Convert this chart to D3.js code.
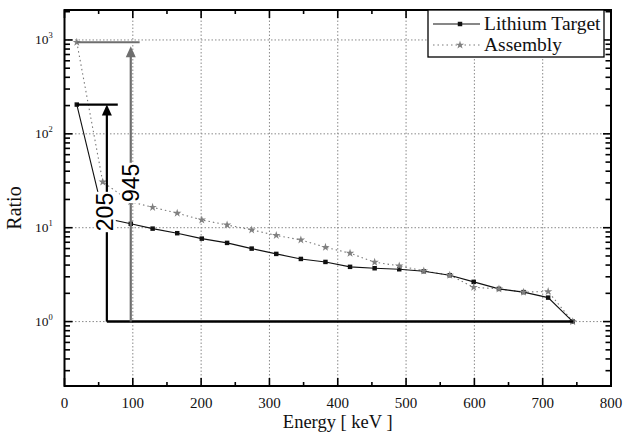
<!DOCTYPE html>
<html lang="en">
<head>
<meta charset="UTF-8">
<title>Ratio vs Energy</title>
<script src="https://cdn.jsdelivr.net/npm/d3@7/dist/d3.min.js"></script>
<style>
    body { margin: 0; background: #fff; }
    svg { display: block; }
    .tick-label { font-family: "Liberation Serif", "Times New Roman", serif; font-size: 15px; fill: #111; }
    .axis-title { font-family: "Liberation Serif", "Times New Roman", serif; fill: #111; }
</style>
</head>
<body>
<svg id="chart" width="623" height="441"></svg>
<script>
    // data
    var liEnergy = [18, 58, 97, 129, 165, 201, 238, 274, 310, 346, 382, 418, 454, 490, 526, 564, 599, 636, 672, 708, 744];
    var liRatio  = [205, 12.7, 11.0, 9.78, 8.74, 7.65, 6.89, 5.99, 5.26, 4.65, 4.32, 3.83, 3.70, 3.61, 3.44, 3.12, 2.65, 2.23, 2.06, 1.80, 1.0];
    var asEnergy = [18, 56, 97, 129, 165, 201, 238, 274, 310, 346, 382, 418, 454, 490, 526, 564, 599, 636, 672, 708, 744];
    var asRatio  = [945, 30.7, 18.9, 16.5, 14.3, 12.1, 10.7, 9.48, 8.28, 7.41, 6.19, 5.35, 4.29, 3.92, 3.47, 3.12, 2.32, 2.23, 2.06, 2.09, 1.0];
    var seriesNames = ["Lithium Target", "Assembly"];
    var xTicks = [0, 100, 200, 300, 400, 500, 600, 700, 800];
    var yTicks = [1, 10, 100, 1000];
    var peakValues = [205, 945];      // annotated peaks
    var peakEnergy = [62, 97];        // where the arrows stand
    var peakCapEnd = [78, 110];       // end of the horizontal cap line
    var baseRange = [62, 745];        // ratio = 1 reference line

    var svg = d3.select("#chart");
    var pLeft = 64.5, pRight = 611, pTop = 10, pBottom = 386;

    var x = d3.scaleLinear().domain([0, 800]).range([pLeft, pRight]);
    var y = d3.scaleLog().domain([0.206, 2085]).range([pBottom, pTop]);

    // grid
    var grid = svg.append("g").attr("stroke", "#8a8a8a").attr("stroke-width", 1).attr("stroke-dasharray", "1.5,2");
    grid.selectAll("line.gx").data(xTicks.slice(1, -1)).enter().append("line")
        .attr("x1", function(d) { return x(d); }).attr("x2", function(d) { return x(d); })
        .attr("y1", pTop).attr("y2", pBottom);
    grid.selectAll("line.gy").data(yTicks).enter().append("line")
        .attr("x1", pLeft).attr("x2", pRight)
        .attr("y1", function(d) { return y(d); }).attr("y2", function(d) { return y(d); });

    // minor values
    var yMinor = [];
    [0.1, 1, 10, 100, 1000].forEach(function(dec) {
        for (var k = 2; k <= 9; k++) {
            var v = dec * k;
            if (v >= 0.206 && v <= 2085) yMinor.push(v);
        }
    });
    var xMinor = d3.range(50, 800, 100);

    // inward ticks on all four sides
    var ticks = svg.append("g").attr("stroke", "#000").attr("stroke-width", 1.6);
    function xTickMarks(vals, len) {
        [[pBottom, -1], [pTop, 1]].forEach(function(s) {
            ticks.selectAll(null).data(vals).enter().append("line")
                .attr("x1", function(d) { return x(d); }).attr("x2", function(d) { return x(d); })
                .attr("y1", s[0]).attr("y2", s[0] + s[1] * len);
        });
    }
    function yTickMarks(vals, len) {
        [[pLeft, 1], [pRight, -1]].forEach(function(s) {
            ticks.selectAll(null).data(vals).enter().append("line")
                .attr("y1", function(d) { return y(d); }).attr("y2", function(d) { return y(d); })
                .attr("x1", s[0]).attr("x2", s[0] + s[1] * len);
        });
    }
    xTickMarks(xTicks, 8);
    xTickMarks(xMinor, 4);
    yTickMarks(yTicks, 8);
    yTickMarks(yMinor, 5.5);

    // frame
    svg.append("rect").attr("x", pLeft).attr("y", pTop).attr("width", pRight - pLeft).attr("height", pBottom - pTop)
        .attr("fill", "none").attr("stroke", "#000").attr("stroke-width", 2);

    // tick labels
    svg.selectAll("text.xl").data(xTicks).enter().append("text")
        .attr("class", "tick-label")
        .attr("x", function(d) { return x(d); })
        .attr("y", pBottom + 22)
        .attr("text-anchor", "middle")
        .text(function(d) { return d; });

    var yl = svg.selectAll("text.yl").data(yTicks).enter().append("text")
        .attr("class", "tick-label")
        .attr("x", 35)
        .attr("y", function(d) { return y(d) + 4.5; })
        .style("font-size", "13.5px");
    yl.append("tspan").text("10");
    yl.append("tspan").attr("dy", -6).style("font-size", "8.5px")
        .text(function(d) { return Math.round(Math.log10(d)); });

    // axis titles
    svg.append("text").attr("class", "axis-title")
        .attr("x", (pLeft + pRight) / 2).attr("y", 428)
        .attr("text-anchor", "middle").style("font-size", "18.5px")
        .text("Energy [ keV ]");
    svg.append("text").attr("class", "axis-title")
        .attr("transform", "translate(21,208) rotate(-90)")
        .attr("text-anchor", "middle").style("font-size", "20px")
        .text("Ratio");

    // series
    var liData = liEnergy.map(function(e, i) { return [e, liRatio[i]]; });
    var asData = asEnergy.map(function(e, i) { return [e, asRatio[i]]; });
    var line = d3.line().x(function(d) { return x(d[0]); }).y(function(d) { return y(d[1]); });

    svg.append("path").datum(asData).attr("d", line)
        .attr("fill", "none").attr("stroke", "#7a7a7a").attr("stroke-width", 1.1)
        .attr("stroke-dasharray", "1.5,3");
    svg.append("path").datum(liData).attr("d", line)
        .attr("fill", "none").attr("stroke", "#111").attr("stroke-width", 1.1);

    var star = d3.symbol().type(d3.symbolStar).size(22);
    var square = d3.symbol().type(d3.symbolSquare).size(20);

    svg.append("g").selectAll("path").data(liData).enter().append("path")
        .attr("d", square)
        .attr("transform", function(d) { return "translate(" + x(d[0]) + "," + y(d[1]) + ")"; })
        .attr("fill", "#111");
    svg.append("g").selectAll("path").data(asData).enter().append("path")
        .attr("d", star)
        .attr("transform", function(d) { return "translate(" + x(d[0]) + "," + y(d[1]) + ")"; })
        .attr("fill", "#808080");

    // annotations
    var ann = svg.append("g");
    ann.append("line")
        .attr("x1", x(baseRange[0])).attr("x2", x(baseRange[1]))
        .attr("y1", y(1)).attr("y2", y(1))
        .attr("stroke", "#000").attr("stroke-width", 2.5);

    var annColor = ["#000", "#6e6e6e"];
    peakValues.forEach(function(v, i) {
        var ax = x(peakEnergy[i]);
        var tipY = y(v) + (i === 1 ? 4 : 0);
        ann.append("line")
            .attr("x1", x(18)).attr("x2", x(peakCapEnd[i]))
            .attr("y1", y(v)).attr("y2", y(v))
            .attr("stroke", annColor[i]).attr("stroke-width", 2.2);
        ann.append("line")
            .attr("x1", ax).attr("x2", ax)
            .attr("y1", y(1)).attr("y2", tipY + 8)
            .attr("stroke", annColor[i]).attr("stroke-width", 2.2);
        ann.append("path")
            .attr("d", "M" + ax + "," + tipY + "L" + (ax - 5) + "," + (tipY + 11) + "L" + (ax + 5) + "," + (tipY + 11) + "Z")
            .attr("fill", annColor[i]);
    });

    // rotated peak labels with white background
    var labelPos = [[59, 14.7], [97, 30.0]];
    peakValues.forEach(function(v, i) {
        var g = ann.append("g")
            .attr("transform", "translate(" + x(labelPos[i][0]) + "," + y(labelPos[i][1]) + ") rotate(-90)");
        var t = g.append("text")
            .attr("text-anchor", "middle")
            .attr("dominant-baseline", "central")
            .style("font-family", "'Liberation Sans', Arial, sans-serif")
            .style("font-size", "23px")
            .attr("fill", "#000")
            .text(v);
        var bb = t.node().getBBox();
        g.insert("rect", "text")
            .attr("x", bb.x - 1).attr("y", bb.y + 2)
            .attr("width", bb.width + 2).attr("height", bb.height - 4)
            .attr("fill", "#fff");
    });

    // legend
    var lg = svg.append("g");
    lg.append("rect").attr("x", 428).attr("y", pTop).attr("width", 176).attr("height", 47)
        .attr("fill", "#fff").attr("stroke", "#000").attr("stroke-width", 1.3);
    var legendY = [24, 45];
    seriesNames.forEach(function(name, i) {
        lg.append("line").attr("x1", 433).attr("x2", 480)
            .attr("y1", legendY[i]).attr("y2", legendY[i])
            .attr("stroke", i === 0 ? "#111" : "#7a7a7a").attr("stroke-width", 1.1)
            .attr("stroke-dasharray", i === 0 ? null : "1.5,3");
        lg.append("path").attr("d", i === 0 ? square : star)
            .attr("transform", "translate(460," + legendY[i] + ")")
            .attr("fill", i === 0 ? "#111" : "#808080");
        lg.append("text").attr("class", "axis-title")
            .attr("x", 484).attr("y", legendY[i] + 6)
            .style("font-size", "19.5px")
            .text(name);
    });
</script>
</body>
</html>
